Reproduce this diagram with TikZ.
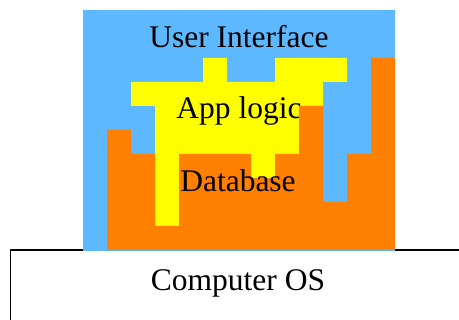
\documentclass[tikz,border=0pt]{standalone}
\usepackage{fontspec}
\setmainfont{Liberation Serif}
\definecolor{uiblue}{RGB}{94,184,255}
\definecolor{logicyellow}{RGB}{255,255,0}
\definecolor{dborange}{RGB}{255,127,0}
\begin{document}
\begin{tikzpicture}[x=1pt,y=-1pt,
  layerlabel/.style={anchor=base,inner sep=0pt,font=\fontsize{31.5}{38}\selectfont},
  osbox/.style={draw=black,line width=1.6pt}]
\useasboundingbox (0,0) rectangle (459,320);
\begin{scope}
  \clip (0,0) rectangle (459,320);
  % operating system base, running off the page
  \draw[osbox] (10.5,250) rectangle (480,340);
\end{scope}
% user interface layer
\fill[uiblue] (83,10) rectangle (395,251);
% application logic layer
\fill[logicyellow] (203,58) -- (227,58) -- (227,82) -- (275,82) -- (275,58)
  -- (347,58) -- (347,82) -- (323,82) -- (323,106) -- (299,106) -- (299,154)
  -- (275,154) -- (275,178) -- (251,178) -- (251,154) -- (179,154)
  -- (179,226) -- (155,226) -- (155,106) -- (131,106) -- (131,82)
  -- (203,82) -- cycle;
\node[layerlabel] (app) at (239,119) {App logic};
% database layer
\fill[dborange] (107,250) -- (107,130) -- (131,130) -- (131,154) -- (155,154)
  -- (155,226) -- (179,226) -- (179,154) -- (251,154) -- (251,178)
  -- (275,178) -- (275,154) -- (299,154) -- (299,106) -- (323,106)
  -- (323,202) -- (347,202) -- (347,154) -- (371,154) -- (371,58)
  -- (395,58) -- (395,250) -- cycle;
\node[layerlabel] (db) at (238,192) {Database};
\node[layerlabel] (ui) at (239,48) {User Interface};
\node[layerlabel] (os) at (238,291) {Computer OS};
\end{tikzpicture}
\end{document}
